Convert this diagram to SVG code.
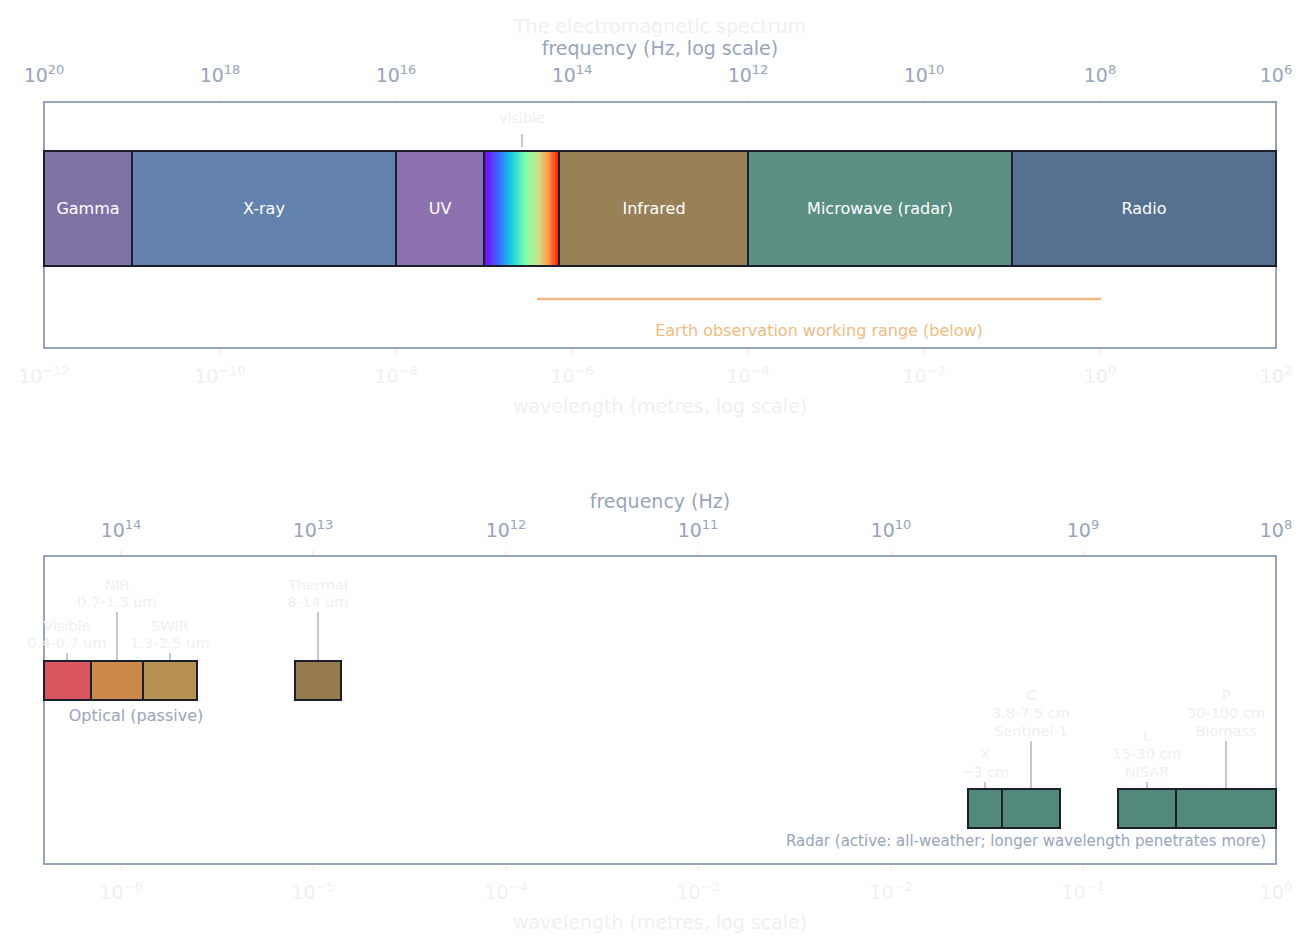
<svg xmlns="http://www.w3.org/2000/svg" width="1309" height="947" viewBox="0 0 1309 947">
<style>
text{font-family:"DejaVu Sans",sans-serif}
.ax{fill:#98a4bb;font-size:19px;text-anchor:middle}
.lt{fill:#eef0f2;font-size:19px;text-anchor:middle}
.lab{fill:#eef0f2;font-size:14.5px;text-anchor:middle}
.bl{fill:#ffffff;font-size:16px;text-anchor:middle}
.frame{fill:none;stroke:#98a4bb;stroke-width:2}
.band{stroke:#1b1f2a;stroke-width:2}
.tk{stroke:#e8ebef;stroke-width:1}
.ld{stroke:#98a4bb;stroke-width:1.2}
</style>
<defs>
<linearGradient id="vis" x1="0" x2="1" y1="0" y2="0">
<stop offset="0" stop-color="#7a00ff"/><stop offset="0.2" stop-color="#3a6dff"/><stop offset="0.35" stop-color="#12c8e6"/><stop offset="0.55" stop-color="#7dffac"/><stop offset="0.72" stop-color="#c8e48a"/><stop offset="0.85" stop-color="#ffa050"/><stop offset="1" stop-color="#ff1400"/>
</linearGradient>
</defs>
<rect width="1309" height="947" fill="#ffffff"/>
<text x="660" y="33" class="lt" font-size="21">The electromagnetic spectrum</text>
<g id="top-axes">
<text x="660" y="55" class="ax">frequency  (Hz, log scale)</text>
<g class="ax">
<text x="44" y="82">10<tspan dy="-8" font-size="13">20</tspan></text>
<text x="220" y="82">10<tspan dy="-8" font-size="13">18</tspan></text>
<text x="396" y="82">10<tspan dy="-8" font-size="13">16</tspan></text>
<text x="572" y="82">10<tspan dy="-8" font-size="13">14</tspan></text>
<text x="748" y="82">10<tspan dy="-8" font-size="13">12</tspan></text>
<text x="924" y="82">10<tspan dy="-8" font-size="13">10</tspan></text>
<text x="1100" y="82">10<tspan dy="-8" font-size="13">8</tspan></text>
<text x="1276" y="82">10<tspan dy="-8" font-size="13">6</tspan></text>
</g>
<g class="lt">
<text x="44" y="383">10<tspan dy="-8" font-size="13">−12</tspan></text>
<text x="220" y="383">10<tspan dy="-8" font-size="13">−10</tspan></text>
<text x="396" y="383">10<tspan dy="-8" font-size="13">−8</tspan></text>
<text x="572" y="383">10<tspan dy="-8" font-size="13">−6</tspan></text>
<text x="748" y="383">10<tspan dy="-8" font-size="13">−4</tspan></text>
<text x="924" y="383">10<tspan dy="-8" font-size="13">−2</tspan></text>
<text x="1100" y="383">10<tspan dy="-8" font-size="13">0</tspan></text>
<text x="1276" y="383">10<tspan dy="-8" font-size="13">2</tspan></text>
</g>
<text x="660" y="413" class="lt">wavelength  (metres, log scale)</text>
<path class="tk" d="M220 96v6M396 96v6M572 96v6M748 96v6M924 96v6M1100 96v6M220 348v6M396 348v6M572 348v6M748 348v6M924 348v6M1100 348v6"/>
<rect class="frame" x="44" y="102" width="1232" height="246"/>
</g>
<g id="gamma"><rect class="band" x="44" y="151" width="88" height="115" fill="#7f73a5"/><text class="bl" x="88" y="214">Gamma</text></g>
<g id="xray"><rect class="band" x="132" y="151" width="264" height="115" fill="#6482ae"/><text class="bl" x="264" y="214">X-ray</text></g>
<g id="uv"><rect class="band" x="396" y="151" width="88" height="115" fill="#8e72b0"/><text class="bl" x="440" y="214">UV</text></g>
<g id="visible"><rect class="band" x="484" y="151" width="75" height="115" fill="url(#vis)"/><text class="lab" x="522" y="123">visible</text><line class="ld" x1="522" y1="134" x2="522" y2="147"/></g>
<g id="infrared"><rect class="band" x="559" y="151" width="189" height="115" fill="#988157"/><text class="bl" x="654" y="214">Infrared</text></g>
<g id="microwave"><rect class="band" x="748" y="151" width="264" height="115" fill="#5b8f83"/><text class="bl" x="880" y="214">Microwave (radar)</text></g>
<g id="radio"><rect class="band" x="1012" y="151" width="264" height="115" fill="#55718f"/><text class="bl" x="1144" y="214">Radio</text></g>
<g id="eo-range"><line x1="537" y1="299" x2="1101" y2="299" stroke="#f0bb82" stroke-width="2.5"/><text x="819" y="336" fill="#f0bb82" font-size="16" text-anchor="middle">Earth observation working range (below)</text></g>

<g id="bottom-axes">
<text x="660" y="508" class="ax">frequency  (Hz)</text>
<g class="ax">
<text x="121" y="537">10<tspan dy="-8" font-size="13">14</tspan></text>
<text x="313" y="537">10<tspan dy="-8" font-size="13">13</tspan></text>
<text x="506" y="537">10<tspan dy="-8" font-size="13">12</tspan></text>
<text x="698" y="537">10<tspan dy="-8" font-size="13">11</tspan></text>
<text x="891" y="537">10<tspan dy="-8" font-size="13">10</tspan></text>
<text x="1083" y="537">10<tspan dy="-8" font-size="13">9</tspan></text>
<text x="1276" y="537">10<tspan dy="-8" font-size="13">8</tspan></text>
</g>
<g class="lt">
<text x="121" y="899">10<tspan dy="-8" font-size="13">−6</tspan></text>
<text x="313" y="899">10<tspan dy="-8" font-size="13">−5</tspan></text>
<text x="506" y="899">10<tspan dy="-8" font-size="13">−4</tspan></text>
<text x="698" y="899">10<tspan dy="-8" font-size="13">−3</tspan></text>
<text x="891" y="899">10<tspan dy="-8" font-size="13">−2</tspan></text>
<text x="1083" y="899">10<tspan dy="-8" font-size="13">−1</tspan></text>
<text x="1276" y="899">10<tspan dy="-8" font-size="13">0</tspan></text>
</g>
<text x="660" y="929" class="lt">wavelength  (metres, log scale)</text>
<path class="tk" d="M121 550v6M313 550v6M506 550v6M698 550v6M891 550v6M1083 550v6M121 864v6M313 864v6M506 864v6M698 864v6M891 864v6M1083 864v6"/>
<rect class="frame" x="44" y="556" width="1232" height="308"/>
</g>
<g id="connectors">
<line class="ld" x1="67" y1="653" x2="67" y2="661"/>
<line class="ld" x1="117" y1="612" x2="117" y2="661"/>
<line class="ld" x1="170" y1="653" x2="170" y2="661"/>
<line class="ld" x1="318" y1="612" x2="318" y2="661"/>
<line class="ld" x1="985" y1="782" x2="985" y2="789"/>
<line class="ld" x1="1031" y1="741" x2="1031" y2="789"/>
<line class="ld" x1="1147" y1="782" x2="1147" y2="789"/>
<line class="ld" x1="1226" y1="741" x2="1226" y2="789"/>
</g>
<g id="opt-visible"><rect class="band" x="44" y="661" width="47" height="39" fill="#d95660"/><text class="lab" x="67" y="631">Visible</text><text class="lab" x="67" y="648">0.4-0.7 um</text></g>
<g id="opt-nir"><rect class="band" x="91" y="661" width="52" height="39" fill="#cb8a4c"/><text class="lab" x="117" y="590">NIR</text><text class="lab" x="117" y="607">0.7-1.3 um</text></g>
<g id="opt-swir"><rect class="band" x="143" y="661" width="54" height="39" fill="#b69152"/><text class="lab" x="170" y="631">SWIR</text><text class="lab" x="170" y="648">1.3-2.5 um</text></g>
<g id="thermal"><rect class="band" x="295" y="661" width="46" height="39" fill="#967b4f"/><text class="lab" x="318" y="590">Thermal</text><text class="lab" x="318" y="607">8-14 um</text></g>
<text x="136" y="721" fill="#98a4bb" font-size="16" text-anchor="middle">Optical (passive)</text>
<g id="radar-x"><rect class="band" x="968" y="789" width="34" height="39" fill="#52897b"/><text class="lab" x="985" y="759">X</text><text class="lab" x="985" y="777">~3 cm</text></g>
<g id="radar-c"><rect class="band" x="1002" y="789" width="58" height="39" fill="#52897b"/><text class="lab" x="1031" y="700">C</text><text class="lab" x="1031" y="718">3.8-7.5 cm</text><text class="lab" x="1031" y="736">Sentinel-1</text></g>
<g id="radar-l"><rect class="band" x="1118" y="789" width="58" height="39" fill="#52897b"/><text class="lab" x="1147" y="741">L</text><text class="lab" x="1147" y="759">15-30 cm</text><text class="lab" x="1147" y="777">NISAR</text></g>
<g id="radar-p"><rect class="band" x="1176" y="789" width="100" height="39" fill="#52897b"/><text class="lab" x="1226" y="700">P</text><text class="lab" x="1226" y="718">30-100 cm</text><text class="lab" x="1226" y="736">Biomass</text></g>
<text x="1026" y="846" fill="#98a4bb" font-size="15" text-anchor="middle">Radar (active: all-weather; longer wavelength penetrates more)</text>
</svg>
